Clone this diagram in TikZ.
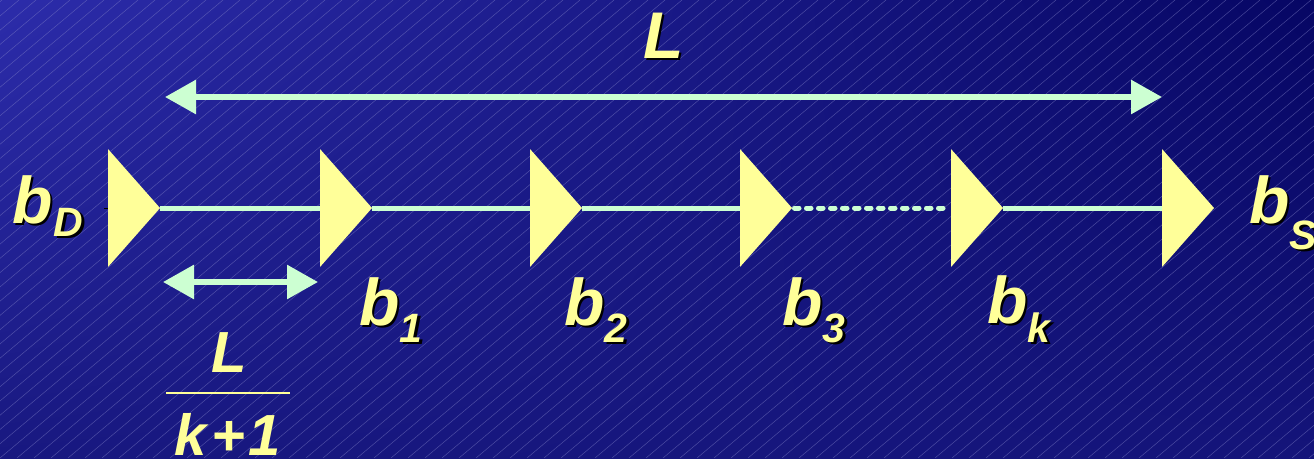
\documentclass[tikz,border=0pt]{standalone}
\usepackage{fontspec}
\setmainfont{Liberation Sans}
\usetikzlibrary{arrows.meta,shadings}
\definecolor{lblyellow}{RGB}{255,255,153}
\definecolor{mint}{RGB}{204,255,210}
\definecolor{bgTL}{RGB}{44,44,170}
\definecolor{bgTR}{RGB}{6,6,100}
\definecolor{bgBL}{RGB}{24,24,128}
\definecolor{bgBR}{RGB}{20,20,122}
\definecolor{hatchcol}{RGB}{130,130,200}
\newcommand{\SubFont}{\fontsize{41}{44}\selectfont}
\newcommand{\ShadowLabel}[3]{%
  \node[lbl,text=black,xshift=2.5pt,yshift=-2.5pt] at #2 {#3};
  \node[lbl] (#1) at #2 {#3};}
\tikzset{
  lbl/.style={font=\fontsize{66}{72}\selectfont\bfseries\itshape, text=lblyellow, inner sep=0pt, anchor=base west},
  fraclbl/.style={font=\fontsize{58}{64}\selectfont\bfseries\itshape, text=lblyellow, inner sep=0pt, anchor=base},
  hatch/.style={draw=hatchcol, line width=0.5pt, opacity=0.5},
  mainline/.style={draw=mint, line width=5pt},
  dotline/.style={draw=mint, line width=5pt, line cap=round, dash pattern=on 4.5pt off 7.5pt},
  tri/.style={fill=lblyellow},
  dimarrow/.style={draw=mint, line width=6pt, {Triangle[length=31pt,width=33pt]}-{Triangle[length=31pt,width=33pt]}},
  fracbar/.style={draw=lblyellow, line width=2.5pt}
}
\begin{document}
\begin{tikzpicture}[x=1pt,y=-1pt]
\useasboundingbox (0,0) rectangle (1314,458);
\shade[upper left=bgTL, upper right=bgTR, lower left=bgBL, lower right=bgBR] (0,0) rectangle (1314,458);
\begin{scope}
  \clip (0,0) rectangle (1314,458);
  \foreach \i in {-35,...,78} \draw[hatch] (\i*17,458) -- ++(546,-458);
\end{scope}
% coordinates of the triangles
\foreach \x/\n in {108/0,320/1,530/2,740/3,951/4,1162/5} {
  \coordinate (in\n) at (\x,208);
  \coordinate (out\n) at (\x+52,208);
}
% connectors
\draw[mainline] (out0) -- (in1);
\draw[mainline] (out1) -- (in2);
\draw[mainline] (out2) -- (in3);
\draw[dotline] ([xshift=2.5pt]out3) -- ([xshift=-2.5pt]in4);
\draw[mainline] (out4) -- (in5);
\draw[black, line width=1pt] ([xshift=-4pt]in0) -- (in0);
% triangles
\foreach \n in {0,...,5} \fill[tri] (in\n) ++(0,-59) -- ++(52,59) -- ++(-52,59) -- cycle;
% dimension arrows
\coordinate (Lleft) at (165,97);
\coordinate (Lright) at (1162,97);
\draw[dimarrow] (Lleft) -- (Lright);
\coordinate (sleft) at (163,282);
\coordinate (sright) at (318,282);
\draw[dimarrow] (sleft) -- (sright);
% labels
\ShadowLabel{Ltop}{(643,58)}{L}
\ShadowLabel{bD}{(12,223)}{b\kern1pt\raisebox{-13pt}{\SubFont D}}
\ShadowLabel{b1}{(359,325)}{b\raisebox{-17pt}{\SubFont 1}}
\ShadowLabel{b2}{(564,325)}{b\raisebox{-17pt}{\SubFont 2}}
\ShadowLabel{b3}{(782,325)}{b\raisebox{-17pt}{\SubFont 3}}
\ShadowLabel{bk}{(987,323)}{b\raisebox{-19pt}{\SubFont k}}
\ShadowLabel{bS}{(1249,223)}{b\raisebox{-26pt}{\SubFont S}}
% fraction
\node[fraclbl] (fracnum) at (229,372) {L};
\coordinate (barL) at (166,393);
\coordinate (barR) at (290,393);
\draw[fracbar] (barL) -- (barR);
\node[fraclbl] (fracden) at (228,455) {k\kern4pt+\kern4pt1};
\end{tikzpicture}
\end{document}
